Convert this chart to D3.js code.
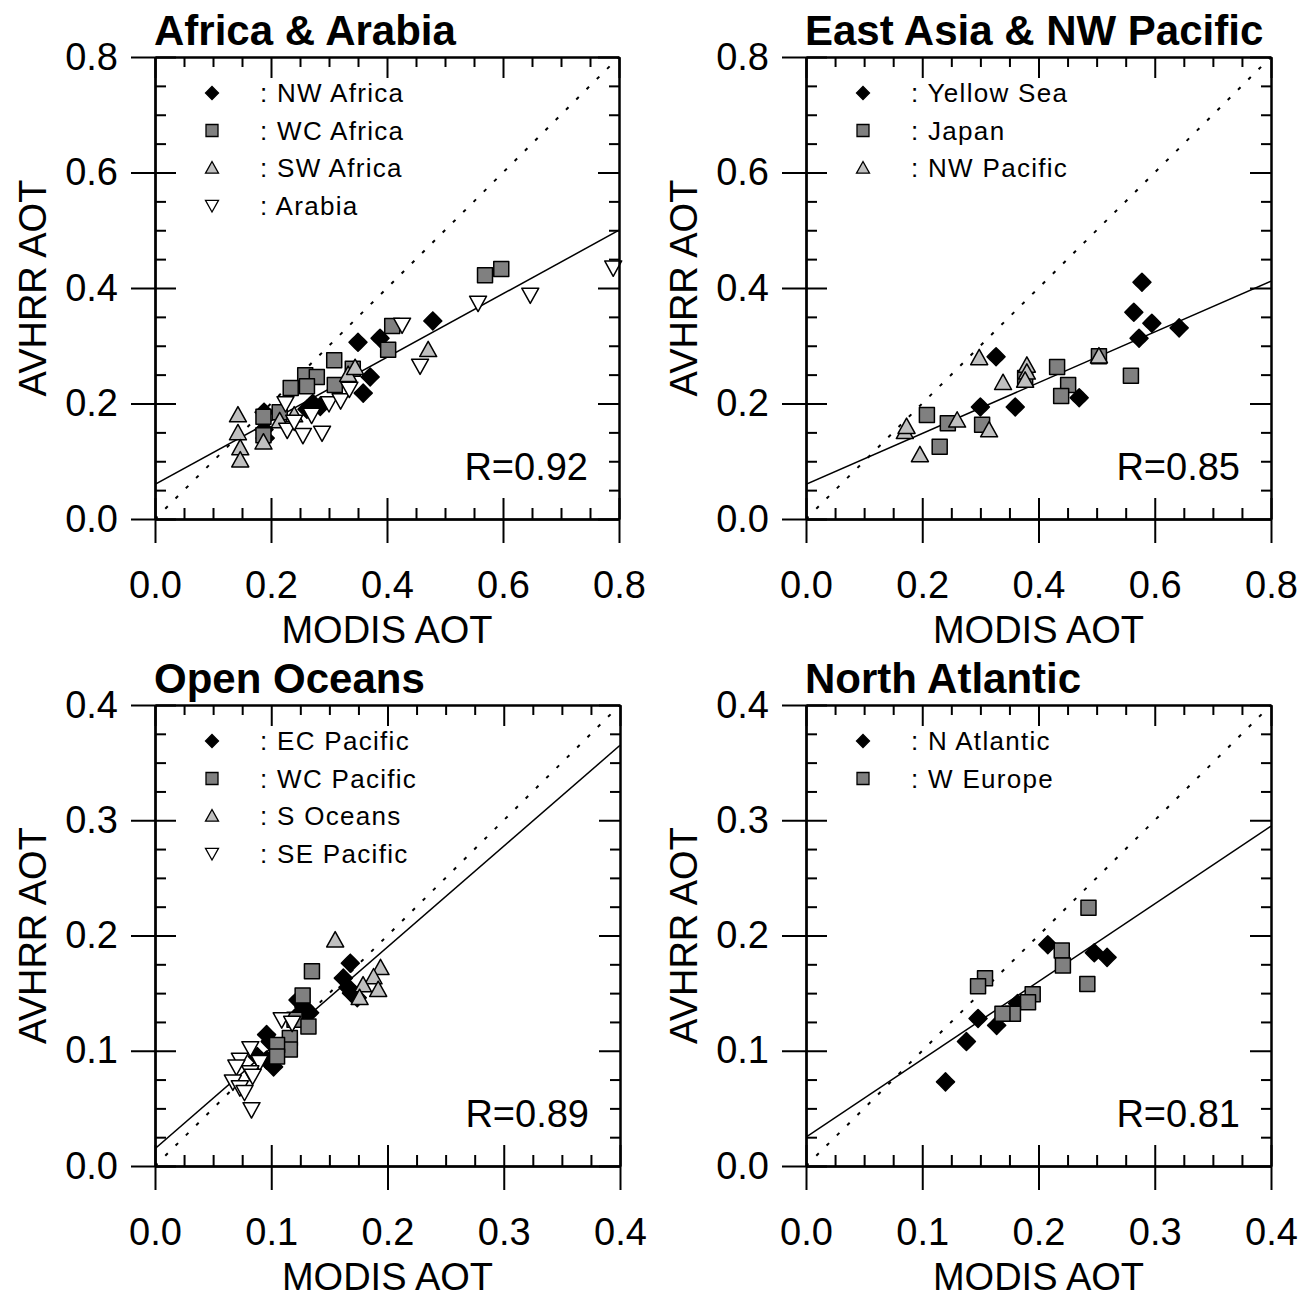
<!DOCTYPE html>
<html><head><meta charset="utf-8">
<script src="https://cdn.jsdelivr.net/npm/d3@7"></script>
<style>
body{margin:0;background:#fff;}
svg{display:block;}
text{font-family:"Liberation Sans",Arial,sans-serif;fill:#000;}
</style></head><body>
<svg id="chart" width="1307" height="1299"></svg>
<script>
// ---------- data ----------
const titles = ["Africa & Arabia", "East Asia & NW Pacific", "Open Oceans", "North Atlantic"];
const rLabels = ["R=0.92", "R=0.85", "R=0.89", "R=0.81"];
const xTitle = "MODIS AOT";
const yTitle = "AVHRR AOT";
const ticksTop = [0, 0.2, 0.4, 0.6, 0.8];
const ticksBottom = [0, 0.1, 0.2, 0.3, 0.4];

// Africa & Arabia
const seriesNames1 = ["NW Africa", "WC Africa", "SW Africa", "Arabia"];
const nwAfrica = [[0.479,0.343],[0.388,0.313],[0.350,0.306],[0.371,0.246],[0.359,0.218],[0.272,0.200],[0.285,0.195],[0.262,0.190],[0.188,0.185],[0.188,0.155],[0.190,0.140]];
const wcAfrica = [[0.569,0.422],[0.597,0.433],[0.409,0.334],[0.402,0.293],[0.309,0.275],[0.341,0.260],[0.259,0.249],[0.279,0.246],[0.234,0.227],[0.262,0.230],[0.310,0.232],[0.187,0.177],[0.187,0.145],[0.215,0.185]];
const swAfrica = [[0.471,0.293],[0.333,0.250],[0.143,0.180],[0.143,0.149],[0.147,0.123],[0.147,0.102],[0.187,0.133],[0.240,0.180],[0.215,0.170],[0.345,0.262]];
const arabia = [[0.790,0.435],[0.647,0.388],[0.557,0.374],[0.426,0.336],[0.457,0.265],[0.228,0.154],[0.255,0.145],[0.288,0.149],[0.240,0.168],[0.300,0.200],[0.320,0.205],[0.270,0.180],[0.225,0.200],[0.335,0.225]];
const fit1 = [0.06, 0.55];

// East Asia & NW Pacific
const seriesNames2 = ["Yellow Sea", "Japan", "NW Pacific"];
const yellowSea = [[0.327,0.281],[0.300,0.194],[0.360,0.194],[0.470,0.210],[0.578,0.410],[0.564,0.358],[0.595,0.339],[0.642,0.331],[0.573,0.313]];
const japan = [[0.208,0.180],[0.244,0.166],[0.303,0.163],[0.230,0.125],[0.377,0.244],[0.432,0.263],[0.451,0.232],[0.439,0.213],[0.504,0.282],[0.559,0.248]];
const nwPacific = [[0.298,0.279],[0.380,0.266],[0.380,0.254],[0.377,0.240],[0.339,0.236],[0.260,0.171],[0.315,0.154],[0.170,0.151],[0.173,0.160],[0.196,0.111],[0.504,0.282]];
const fit2 = [0.06, 0.44];

// Open Oceans
const seriesNames3 = ["EC Pacific", "WC Pacific", "S Oceans", "SE Pacific"];
const ecPacific = [[0.168,0.176],[0.162,0.163],[0.166,0.155],[0.169,0.150],[0.174,0.146],[0.123,0.144],[0.128,0.138],[0.133,0.133],[0.125,0.133],[0.096,0.114],[0.099,0.108],[0.088,0.095],[0.096,0.092],[0.102,0.086]];
const wcPacific = [[0.135,0.169],[0.127,0.148],[0.120,0.127],[0.132,0.121],[0.116,0.111],[0.116,0.101],[0.105,0.105],[0.105,0.095]];
const sOceans = [[0.155,0.196],[0.194,0.172],[0.188,0.164],[0.192,0.153],[0.179,0.157],[0.176,0.146]];
const sePacific = [[0.109,0.127],[0.118,0.124],[0.082,0.102],[0.073,0.092],[0.070,0.086],[0.090,0.090],[0.082,0.081],[0.067,0.073],[0.073,0.068],[0.077,0.064],[0.084,0.078],[0.083,0.049]];
const fit3 = [0.015, 0.875];

// North Atlantic
const seriesNames4 = ["N Atlantic", "W Europe"];
const nAtlantic = [[0.208,0.192],[0.248,0.185],[0.259,0.181],[0.182,0.141],[0.148,0.128],[0.164,0.122],[0.138,0.108],[0.120,0.073]];
const wEurope = [[0.243,0.224],[0.220,0.187],[0.221,0.174],[0.242,0.158],[0.154,0.163],[0.148,0.156],[0.195,0.149],[0.191,0.142],[0.178,0.132],[0.169,0.132]];
const fit4 = [0.025, 0.675];

// ---------- symbols ----------
const shapes = {
  diamond: { draw(ctx, s) { const r = Math.sqrt(s) / 2, c = r * 0.35; ctx.moveTo(-c,-r+c); ctx.lineTo(0,-r); ctx.lineTo(c,-r+c); ctx.lineTo(r-c,-c); ctx.lineTo(r,0); ctx.lineTo(r-c,c); ctx.lineTo(c,r-c); ctx.lineTo(0,r); ctx.lineTo(-c,r-c); ctx.lineTo(-r+c,c); ctx.lineTo(-r,0); ctx.lineTo(-r+c,-c); ctx.closePath(); } },
  square: { draw(ctx, s) { const r = Math.sqrt(s) / 2; ctx.rect(-r,-r,2*r,2*r); } },
  up: { draw(ctx, s) { const r = Math.sqrt(s) / 2; ctx.moveTo(0,-r); ctx.lineTo(r,r*0.8); ctx.lineTo(-r,r*0.8); ctx.closePath(); } },
  down: { draw(ctx, s) { const r = Math.sqrt(s) / 2; ctx.moveTo(0,r); ctx.lineTo(r,-r*0.8); ctx.lineTo(-r,-r*0.8); ctx.closePath(); } }
};
const styleOf = {
  diamond: { fill: "#000", size: 18*18, lsize: 13*13 },
  square: { fill: "#808080", size: 15*15, lsize: 12*12 },
  up: { fill: "#c0c0c0", size: 17*17, lsize: 13*13 },
  down: { fill: "#fff", size: 17*17, lsize: 13*13 }
};

const panels = [
  { l:155, r:619, t:57, b:519, ticks:ticksTop, minor:0.05, title:titles[0], rl:rLabels[0], fit:fit1,
    series:[[seriesNames1[0],nwAfrica,"diamond"],[seriesNames1[1],wcAfrica,"square"],[seriesNames1[2],swAfrica,"up"],[seriesNames1[3],arabia,"down"]] },
  { l:806, r:1271, t:57, b:519, ticks:ticksTop, minor:0.05, title:titles[1], rl:rLabels[1], fit:fit2,
    series:[[seriesNames2[0],yellowSea,"diamond"],[seriesNames2[1],japan,"square"],[seriesNames2[2],nwPacific,"up"]] },
  { l:155, r:620, t:705, b:1166, ticks:ticksBottom, minor:0.025, title:titles[2], rl:rLabels[2], fit:fit3,
    series:[[seriesNames3[0],ecPacific,"diamond"],[seriesNames3[1],wcPacific,"square"],[seriesNames3[2],sOceans,"up"],[seriesNames3[3],sePacific,"down"]] },
  { l:806, r:1271, t:705, b:1166, ticks:ticksBottom, minor:0.025, title:titles[3], rl:rLabels[3], fit:fit4,
    series:[[seriesNames4[0],nAtlantic,"diamond"],[seriesNames4[1],wEurope,"square"]] }
];

const svg = d3.select("#chart");
const fmt = d3.format(".1f");

panels.forEach((p, i) => {
  const dmax = p.ticks[p.ticks.length - 1];
  const x = d3.scaleLinear().domain([0, dmax]).range([p.l, p.r]);
  const y = d3.scaleLinear().domain([0, dmax]).range([p.b, p.t]);
  const minorVals = d3.range(0, dmax + 1e-9, p.minor).filter(v => !p.ticks.some(t => Math.abs(t - v) < 1e-9));
  const g = svg.append("g");

  const clipId = "clip" + i;
  svg.append("clipPath").attr("id", clipId).append("rect")
    .attr("x", p.l).attr("y", p.t).attr("width", p.r - p.l).attr("height", p.b - p.t);

  // lines
  const line = d3.line().x(d => x(d[0])).y(d => y(d[1]));
  g.append("path").datum([[0,0],[dmax,dmax]]).attr("d", line)
    .attr("fill","none").attr("stroke","#000").attr("stroke-width",2).attr("stroke-dasharray","3.5,11")
    .attr("clip-path", `url(#${clipId})`);
  g.append("path").datum([[0,p.fit[0]],[dmax,p.fit[0]+p.fit[1]*dmax]]).attr("d", line)
    .attr("fill","none").attr("stroke","#000").attr("stroke-width",1.5)
    .attr("clip-path", `url(#${clipId})`);

  // points
  p.series.forEach(([name, data, shape]) => {
    const st = styleOf[shape];
    g.append("g").selectAll("path").data(data).join("path")
      .attr("d", d3.symbol().type(shapes[shape]).size(st.size))
      .attr("transform", d => `translate(${x(d[0])},${y(d[1])})`)
      .attr("fill", st.fill).attr("stroke","#000").attr("stroke-width", 1.5)
      .attr("stroke-linejoin","round");
  });

  // axes
  const axStyle = sel => {
    sel.selectAll("path.domain").attr("stroke","#000").attr("stroke-width",2);
    sel.selectAll(".tick line").attr("stroke","#000").attr("stroke-width",2);
    sel.selectAll(".tick text").style("font-size","38px").style("font-family",'"Liberation Sans",Arial,sans-serif');
  };
  // bottom
  g.append("g").attr("transform",`translate(0,${p.b})`)
    .call(d3.axisBottom(x).tickValues(p.ticks).tickSize(24).tickPadding(28).tickSizeOuter(0).tickFormat(fmt)).call(axStyle);
  g.append("g").attr("transform",`translate(0,${p.b})`)
    .call(d3.axisBottom(x).tickValues(p.ticks).tickSize(-21).tickSizeOuter(0).tickFormat("")).call(axStyle);
  g.append("g").attr("transform",`translate(0,${p.b})`)
    .call(d3.axisBottom(x).tickValues(minorVals).tickSize(-11).tickSizeOuter(0).tickFormat("")).call(axStyle);
  // top
  g.append("g").attr("transform",`translate(0,${p.t})`)
    .call(d3.axisTop(x).tickValues(p.ticks).tickSize(-21).tickSizeOuter(0).tickFormat("")).call(axStyle);
  g.append("g").attr("transform",`translate(0,${p.t})`)
    .call(d3.axisTop(x).tickValues(minorVals).tickSize(-10).tickSizeOuter(0).tickFormat("")).call(axStyle);
  // left
  g.append("g").attr("transform",`translate(${p.l},0)`)
    .call(d3.axisLeft(y).tickValues(p.ticks).tickSize(24).tickPadding(13).tickSizeOuter(0).tickFormat(fmt)).call(axStyle);
  g.append("g").attr("transform",`translate(${p.l},0)`)
    .call(d3.axisLeft(y).tickValues(p.ticks).tickSize(-21).tickSizeOuter(0).tickFormat("")).call(axStyle);
  g.append("g").attr("transform",`translate(${p.l},0)`)
    .call(d3.axisLeft(y).tickValues(minorVals).tickSize(-11).tickSizeOuter(0).tickFormat("")).call(axStyle);
  // right
  g.append("g").attr("transform",`translate(${p.r},0)`)
    .call(d3.axisRight(y).tickValues(p.ticks).tickSize(-21).tickSizeOuter(0).tickFormat("")).call(axStyle);
  g.append("g").attr("transform",`translate(${p.r},0)`)
    .call(d3.axisRight(y).tickValues(minorVals).tickSize(-10).tickSizeOuter(0).tickFormat("")).call(axStyle);

  // titles
  g.append("text").attr("x", p.l - 1).attr("y", p.t - 12)
    .style("font-size","42px").style("font-weight","bold").text(p.title);
  g.append("text").attr("x", (p.l + p.r) / 2).attr("y", p.b + 124).attr("text-anchor","middle")
    .style("font-size","38px").text(xTitle);
  g.append("text").attr("transform", `translate(${p.l - 109},${(p.t + p.b) / 2}) rotate(-90)`)
    .attr("text-anchor","middle").style("font-size","38px").text(yTitle);
  g.append("text").attr("x", p.r - 31).attr("y", p.b - 39).attr("text-anchor","end")
    .style("font-size","38px").text(p.rl);

  // legend
  p.series.forEach(([name, data, shape], k) => {
    const st = styleOf[shape];
    const by = p.t + 45 + k * 37.5;
    g.append("path").attr("d", d3.symbol().type(shapes[shape]).size(st.lsize))
      .attr("transform", `translate(${p.l + 57},${by - 9})`)
      .attr("fill", st.fill).attr("stroke","#000").attr("stroke-width",1.3);
    g.append("text").attr("x", p.l + 105).attr("y", by)
      .style("font-size","26px").style("letter-spacing","1.3px").text(": " + name);
  });
});
</script>
</body></html>
